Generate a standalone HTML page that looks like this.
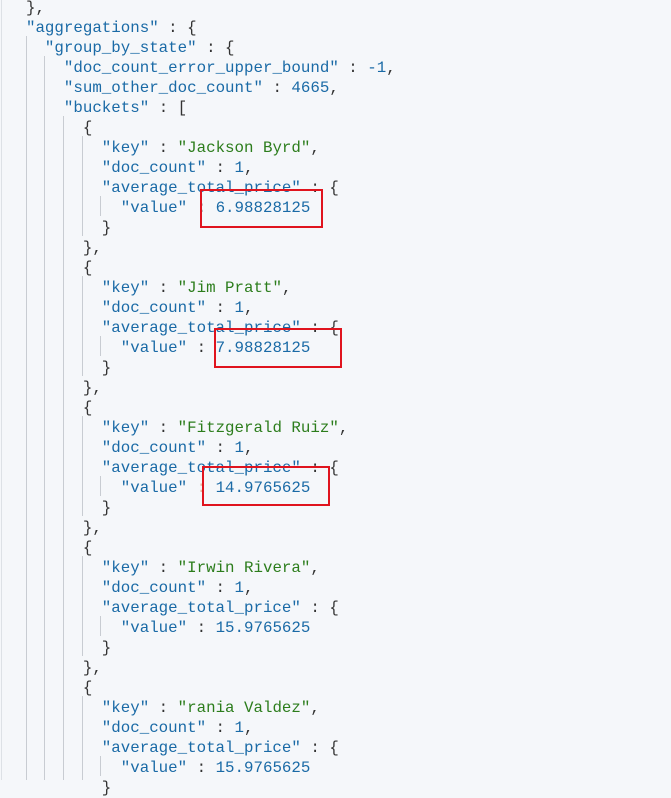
<!DOCTYPE html>
<html><head><meta charset="utf-8"><style>
html,body{margin:0;padding:0;}
body{width:671px;height:780px;background:#f5f7fa;position:relative;overflow:hidden;}
.edge{position:absolute;left:1px;top:0;width:1px;height:780px;background:#dde1e6;}
pre{position:absolute;left:7px;top:-2px;margin:0;font-family:"Liberation Mono",monospace;font-size:15.8px;line-height:20px;color:#333;}
.k{color:#1a6aa6}.s{color:#2c7d1c}.n{color:#1a6aa6}.p{color:#3b3b3b}
.g{position:absolute;width:1px;background:#c8ccd2;}
.box{position:absolute;border:2px solid #e0141e;box-sizing:border-box;}
</style></head><body>
<div class="edge"></div>
<div class="g" style="left:26px;top:36px;height:744px"></div>
<div class="g" style="left:44px;top:56px;height:724px"></div>
<div class="g" style="left:63px;top:116px;height:664px"></div>
<div class="g" style="left:82px;top:136px;height:100px"></div>
<div class="g" style="left:100px;top:196px;height:20px"></div>
<div class="g" style="left:82px;top:276px;height:100px"></div>
<div class="g" style="left:100px;top:336px;height:20px"></div>
<div class="g" style="left:82px;top:416px;height:100px"></div>
<div class="g" style="left:100px;top:476px;height:20px"></div>
<div class="g" style="left:82px;top:556px;height:100px"></div>
<div class="g" style="left:100px;top:616px;height:20px"></div>
<div class="g" style="left:82px;top:696px;height:84px"></div>
<div class="g" style="left:100px;top:756px;height:20px"></div>
<pre>  },
  <span class="k">"aggregations"</span> : {
    <span class="k">"group_by_state"</span> : {
      <span class="k">"doc_count_error_upper_bound"</span> : <span class="n">-1</span>,
      <span class="k">"sum_other_doc_count"</span> : <span class="n">4665</span>,
      <span class="k">"buckets"</span> : [
        {
          <span class="k">"key"</span> : <span class="s">"Jackson Byrd"</span>,
          <span class="k">"doc_count"</span> : <span class="n">1</span>,
          <span class="k">"average_total_price"</span> : {
            <span class="k">"value"</span> : <span class="n">6.98828125</span>
          }
        },
        {
          <span class="k">"key"</span> : <span class="s">"Jim Pratt"</span>,
          <span class="k">"doc_count"</span> : <span class="n">1</span>,
          <span class="k">"average_total_price"</span> : {
            <span class="k">"value"</span> : <span class="n">7.98828125</span>
          }
        },
        {
          <span class="k">"key"</span> : <span class="s">"Fitzgerald Ruiz"</span>,
          <span class="k">"doc_count"</span> : <span class="n">1</span>,
          <span class="k">"average_total_price"</span> : {
            <span class="k">"value"</span> <span style="color:#e8b8a0">:</span> <span class="n">14.9765625</span>
          }
        },
        {
          <span class="k">"key"</span> : <span class="s">"Irwin Rivera"</span>,
          <span class="k">"doc_count"</span> : <span class="n">1</span>,
          <span class="k">"average_total_price"</span> : {
            <span class="k">"value"</span> : <span class="n">15.9765625</span>
          }
        },
        {
          <span class="k">"key"</span> : <span class="s">"rania Valdez"</span>,
          <span class="k">"doc_count"</span> : <span class="n">1</span>,
          <span class="k">"average_total_price"</span> : {
            <span class="k">"value"</span> : <span class="n">15.9765625</span>
          }
</pre>
<div class="box" style="left:200px;top:189px;width:123px;height:39px"></div>
<div class="box" style="left:214px;top:328px;width:128px;height:40px"></div>
<div class="box" style="left:202px;top:466px;width:128px;height:40px"></div>
</body></html>
